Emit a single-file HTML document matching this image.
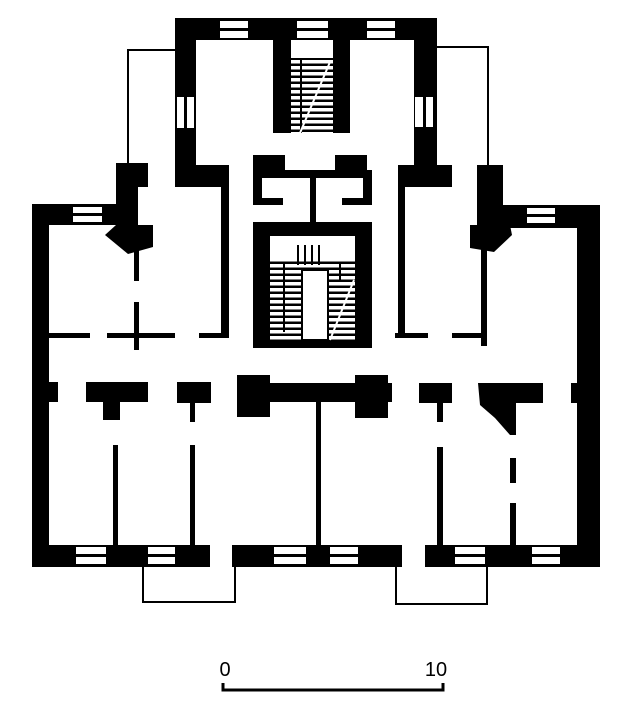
<!DOCTYPE html>
<html><head><style>html,body{margin:0;padding:0;background:#fff}svg{display:block}</style></head>
<body>
<svg width="630" height="713" viewBox="0 0 630 713" xmlns="http://www.w3.org/2000/svg">
<defs>
<pattern id="tr" width="6" height="6" patternUnits="userSpaceOnUse"><rect width="6" height="6" fill="#fff"/><rect y="3.5" width="6" height="2.5" fill="#000"/></pattern>
</defs>
<g fill="#000">
<!-- thin outlines -->
<rect x="127" y="49" width="49" height="2"/><rect x="127" y="49" width="2" height="116"/>
<rect x="436" y="46" width="53" height="2"/><rect x="487" y="46" width="2" height="120"/>
<!-- top block -->
<rect x="175" y="18" width="262" height="22"/>
<rect x="175" y="18" width="21" height="169"/>
<rect x="175" y="165" width="54" height="22"/>
<rect x="221" y="165" width="8" height="172"/>
<rect x="414" y="18" width="23" height="169"/>
<rect x="398" y="165" width="54" height="22"/>
<rect x="398" y="165" width="7" height="172"/>
<!-- top stair core -->
<rect x="273" y="40" width="18" height="93"/>
<rect x="333" y="40" width="17" height="93"/>
<rect x="291" y="58" width="42" height="75" fill="url(#tr)"/>
<rect x="300" y="58" width="2" height="75"/><rect x="300" y="58" width="24" height="2"/>
<!-- central stair area -->
<rect x="253" y="155" width="32" height="22"/>
<rect x="253" y="170" width="119" height="8"/>
<rect x="253" y="177" width="9" height="28"/>
<rect x="253" y="198" width="30" height="7"/>
<rect x="335" y="155" width="32" height="22"/>
<rect x="363" y="177" width="9" height="28"/>
<rect x="342" y="198" width="30" height="7"/>
<rect x="310" y="175" width="6" height="50"/>
<rect x="253" y="222" width="119" height="14"/>
<rect x="253" y="222" width="17" height="126"/>
<rect x="355" y="222" width="17" height="126"/>
<rect x="253" y="340" width="119" height="8"/>
<rect x="270" y="258" width="85" height="82" fill="url(#tr)"/>
<rect x="302" y="270" width="26" height="70" fill="#fff" stroke="#000" stroke-width="2"/>
<rect x="283" y="262" width="2" height="70"/><rect x="283" y="262" width="58" height="2"/><rect x="339" y="262" width="2" height="20"/>
<rect x="297" y="245" width="2" height="20"/><rect x="304" y="245" width="2" height="20"/><rect x="311" y="245" width="2" height="20"/><rect x="318" y="245" width="2" height="20"/>
<!-- left wing -->
<rect x="116" y="163" width="32" height="24"/>
<rect x="116" y="163" width="22" height="70"/>
<polygon points="116,225 153,225 153,247 128,254 105,235"/>
<rect x="32" y="204" width="90" height="21"/>
<rect x="32" y="204" width="17" height="363"/>
<rect x="134" y="247" width="5" height="34"/>
<rect x="134" y="302" width="5" height="48"/>
<rect x="48" y="333" width="42" height="5"/>
<rect x="107" y="333" width="68" height="5"/>
<rect x="199" y="333" width="30" height="5"/>
<!-- right wing -->
<rect x="477" y="165" width="26" height="60"/>
<rect x="477" y="205" width="123" height="23"/>
<rect x="577" y="205" width="23" height="362"/>
<polygon points="470,225 510,225 512,235 494,252 470,248"/>
<rect x="481" y="248" width="6" height="98"/>
<rect x="395" y="333" width="33" height="5"/>
<rect x="452" y="333" width="33" height="5"/>
<!-- lower piers -->
<rect x="32" y="382" width="26" height="20"/>
<rect x="86" y="382" width="62" height="20"/>
<rect x="103" y="400" width="17" height="20"/>
<rect x="177" y="382" width="34" height="21"/>
<rect x="190" y="400" width="5" height="22"/>
<rect x="237" y="383" width="155" height="19"/>
<rect x="237" y="375" width="33" height="42"/>
<rect x="355" y="375" width="33" height="43"/>
<rect x="316" y="400" width="5" height="146"/>
<rect x="419" y="383" width="33" height="20"/>
<rect x="437" y="400" width="6" height="22"/>
<polygon points="478,383 543,383 543,403 516,403 516,435 510,435 495,418 480,405"/>
<rect x="571" y="383" width="6" height="20"/>
<!-- lower partitions -->
<rect x="113" y="445" width="5" height="101"/>
<rect x="190" y="445" width="5" height="101"/>
<rect x="437" y="447" width="6" height="99"/>
<rect x="510" y="458" width="6" height="25"/>
<rect x="510" y="503" width="6" height="43"/>
<!-- bottom wall -->
<rect x="32" y="545" width="178" height="22"/>
<rect x="232" y="545" width="170" height="22"/>
<rect x="425" y="545" width="175" height="22"/>
</g>
<!-- windows -->
<g fill="#fff">
<rect x="220" y="21" width="28" height="7"/><rect x="220" y="31" width="28" height="7"/>
<rect x="297" y="21" width="31" height="7"/><rect x="297" y="31" width="31" height="7"/>
<rect x="367" y="21" width="28" height="7"/><rect x="367" y="31" width="28" height="7"/>
<rect x="177" y="97" width="7" height="31"/><rect x="187" y="97" width="7" height="31"/>
<rect x="415" y="97" width="8" height="30"/><rect x="426" y="97" width="7" height="30"/>
<rect x="73" y="207" width="29" height="6"/><rect x="73" y="216" width="29" height="6"/>
<rect x="527" y="208" width="28" height="6"/><rect x="527" y="217" width="28" height="6"/>
<rect x="76" y="547" width="30" height="7"/><rect x="76" y="557" width="30" height="7"/>
<rect x="148" y="547" width="27" height="7"/><rect x="148" y="557" width="27" height="7"/>
<rect x="274" y="547" width="32" height="7"/><rect x="274" y="557" width="32" height="7"/>
<rect x="330" y="547" width="28" height="7"/><rect x="330" y="557" width="28" height="7"/>
<rect x="455" y="547" width="30" height="7"/><rect x="455" y="557" width="30" height="7"/>
<rect x="532" y="547" width="28" height="7"/><rect x="532" y="557" width="28" height="7"/>
</g>
<line x1="300" y1="133" x2="330" y2="62" stroke="#fff" stroke-width="2"/>
<line x1="330" y1="340" x2="354" y2="280" stroke="#fff" stroke-width="2"/>
<!-- bays -->
<g fill="none" stroke="#000" stroke-width="2">
<polyline points="143,567 143,602 235,602 235,567"/>
<polyline points="396,567 396,604 487,604 487,567"/>
<polyline points="223,683 223,690 443,690 443,683" stroke-width="3"/>
</g>
<text x="225" y="676" font-family="Liberation Sans, sans-serif" font-size="20" text-anchor="middle">0</text>
<text x="436" y="676" font-family="Liberation Sans, sans-serif" font-size="20" text-anchor="middle">10</text>
</svg>
</body></html>
